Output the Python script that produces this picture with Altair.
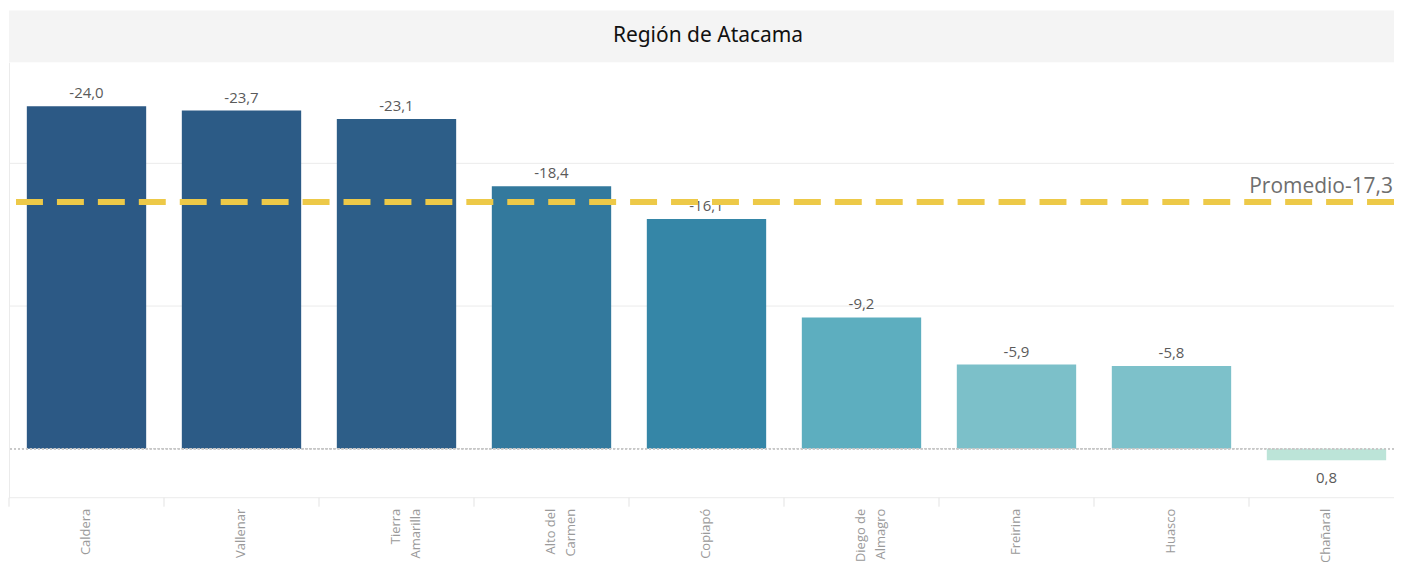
import altair as alt
import pandas as pd
import numpy as np

# ---- data ----
comunas = ["Caldera", "Vallenar", "Tierra Amarilla", "Alto del Carmen", "Copiapó",
           "Diego de Almagro", "Freirina", "Huasco", "Chañaral"]
valores = [-24.0, -23.7, -23.1, -18.4, -16.1, -9.2, -5.9, -5.8, 0.8]
promedio = [-17.3]
titulo = ["Región de Atacama"]
grid_vals = [-20, -10]

# ---- styles ----
W = 1387            # drawable width (page is 1403 with 8px margins)
XR = 1397           # band range (last column runs past the window edge)
H = 436
HEADER_H = 52
Y_DOMAIN = [-27.08, 3.43]
P_IN = 0.23
STEP = XR / len(comunas)
HALF_GAP = P_IN * STEP / 2
blue_teal = ['#bce4d8', '#aedcd5', '#a1d5d2', '#95cecf', '#89c8cc', '#7ec1ca', '#72bac6',
             '#66b2c2', '#59acbe', '#4ba5ba', '#419eb6', '#3b96b2', '#358ead', '#3586a7',
             '#347ea1', '#32779b', '#316f96', '#2f6790', '#2d608a', '#2c5985']
vmin, vmax = min(valores), max(valores)
color_domain = list(np.linspace(vmax, vmin, len(blue_teal)))

df = pd.DataFrame({"comuna": comunas, "v": valores})
df_avg = pd.DataFrame({"p": promedio})
df_title = pd.DataFrame({"t": titulo})
df_grid = pd.DataFrame({"g": grid_vals + [Y_DOMAIN[1]]})

split_expr = ("indexof(datum.comuna, ' ') > 0 ? "
              "[slice(datum.comuna, 0, lastindexof(datum.comuna, ' ')), "
              "slice(datum.comuna, lastindexof(datum.comuna, ' ') + 1)] : datum.comuna")
num_fmt = "replace(replace(format({f}, '.1f'), '.', ','), '\u2212', '-')"

x_scale = alt.Scale(paddingInner=P_IN, paddingOuter=P_IN / 2, range=[0, XR])
x_enc = alt.X("comuna:N", sort=comunas, scale=x_scale, axis=None)
y_scale = alt.Scale(domain=Y_DOMAIN, reverse=True, nice=False, zero=False)
y_axis = alt.Axis(title=None, labels=False, ticks=False, grid=False,
                  domainColor="#ebebeb", minExtent=0, maxExtent=0)
y_enc = alt.Y("v:Q", scale=y_scale, axis=y_axis)

grid = alt.Chart(df_grid).mark_rule(color="#ebebeb", strokeWidth=1).encode(
    y=alt.Y("g:Q", scale=y_scale, axis=y_axis)
)

bars = alt.Chart(df).mark_bar().encode(
    x=x_enc,
    y=y_enc,
    y2=alt.datum(0),
    color=alt.Color("v:Q", scale=alt.Scale(domain=color_domain, range=blue_teal), legend=None),
)

seps = alt.Chart(df).mark_rule(color="#e3e3e3", strokeWidth=1, xOffset=-HALF_GAP).encode(
    x=alt.X("comuna:N", sort=comunas, scale=x_scale, axis=None, bandPosition=0),
    y=alt.value(H), y2=alt.value(H + 9),
)

cat_labels = alt.Chart(df).transform_calculate(lbl=split_expr).mark_text(
    angle=270, align="right", baseline="middle", fontSize=13, font="Open Sans",
    color="#9a9a9a", lineHeight=20
).encode(x=x_enc, y=alt.value(H + 11), text="lbl:N")

base_txt = alt.Chart(df).transform_calculate(lbl=num_fmt.format(f="datum.v"))
txt_neg = base_txt.transform_filter("datum.v < 0").mark_text(
    baseline="bottom", dy=-5, fontSize=15, font="Open Sans", color="#5a5a5a"
).encode(x=x_enc, y=y_enc, text="lbl:N")
txt_pos = base_txt.transform_filter("datum.v >= 0").mark_text(
    baseline="top", dy=11, fontSize=15, font="Open Sans", color="#5a5a5a"
).encode(x=x_enc, y=y_enc, text="lbl:N")

zero = alt.Chart(df).mark_rule(color="#c8c8c8", strokeDash=[2, 2], strokeWidth=1, clip=True).encode(
    y=alt.datum(0)
)

avg_line = alt.Chart(df_avg).mark_rule(color="#edc948", strokeWidth=6, strokeDash=[27, 14],
                                       strokeCap="butt", clip=True).encode(
    y=alt.Y("p:Q", scale=y_scale, axis=y_axis)
)
avg_txt = alt.Chart(df_avg).transform_calculate(
    lbl="'Promedio' + " + num_fmt.format(f="datum.p")
).mark_text(align="right", baseline="alphabetic", dy=-9, fontSize=21, font="Open Sans",
            color="#6e6e6e").encode(y=alt.Y("p:Q", scale=y_scale, axis=y_axis),
                                    x=alt.value(W - 1), text="lbl:N")

no_stroke = alt.ViewBackground(strokeWidth=0, strokeOpacity=0)

main = alt.layer(grid, bars, seps, cat_labels, zero, txt_neg, txt_pos, avg_line, avg_txt).properties(
    width=W, height=H, view=no_stroke
)

header_rect = alt.Chart(df_title).mark_rect(color="#f4f4f4").encode(
    x=alt.value(0), x2=alt.value(W), y=alt.value(0), y2=alt.value(HEADER_H)
)
header_txt = alt.Chart(df_title).mark_text(
    fontSize=21, font="Noto Sans", color="#111111", baseline="middle", align="center"
).encode(x=alt.value(700), y=alt.value(HEADER_H / 2), text="t:N")
header = alt.layer(header_rect, header_txt).properties(width=W, height=HEADER_H, view=no_stroke)

chart = alt.vconcat(header, main, spacing=0).properties(
    padding={"left": 0, "top": 2, "right": 0, "bottom": 0}
).configure_view(strokeWidth=0, strokeOpacity=0).configure(background="white")

chart.save("out.html", embed_options={"renderer": "svg", "actions": False})
